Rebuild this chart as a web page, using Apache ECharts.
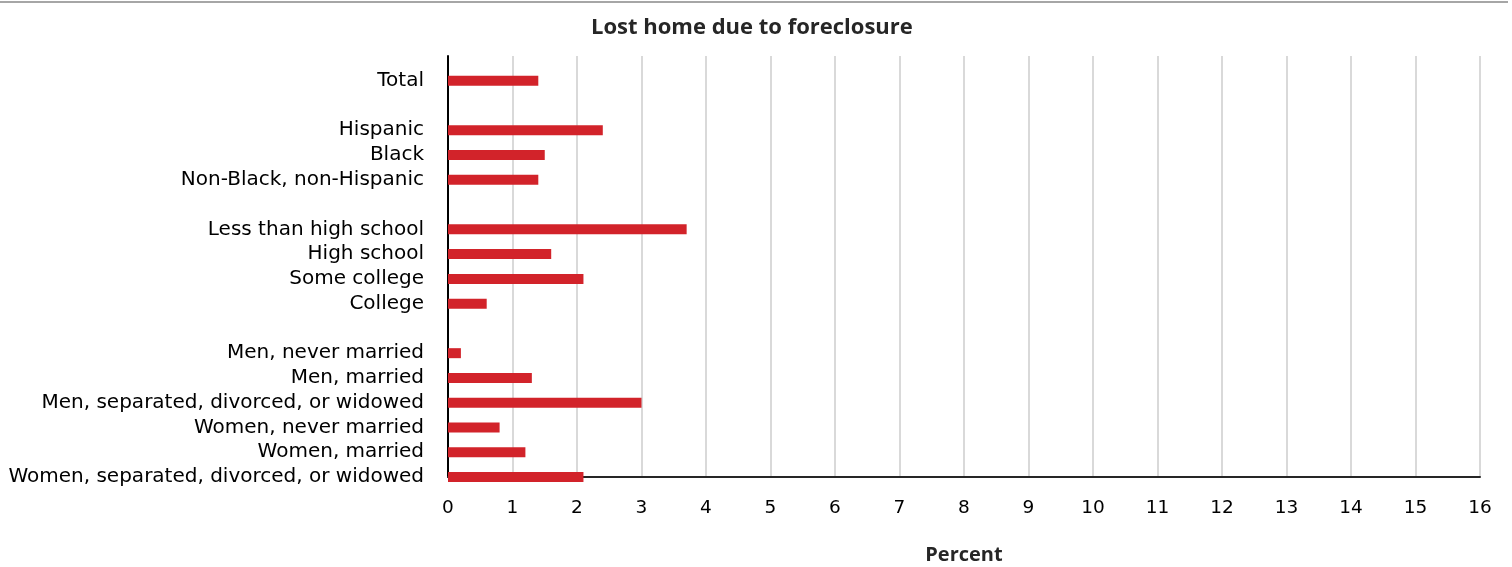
<!DOCTYPE html>
<html>
<head>
<meta charset="utf-8">
<script src="https://cdn.jsdelivr.net/npm/echarts@6/dist/echarts.min.js"></script>
<style>
  html, body { margin: 0; padding: 0; background: #fff; }
  #chart { width: 1512px; height: 567px; }
</style>
</head>
<body>
<div id="chart"></div>
<script>
// categories, blank strings are the spacer rows between groups
var categories = [
    '',
    'Total',
    '',
    'Hispanic',
    'Black',
    'Non-Black, non-Hispanic',
    '',
    'Less than high school',
    'High school',
    'Some college',
    'College',
    '',
    'Men, never married',
    'Men, married',
    'Men, separated, divorced, or widowed',
    'Women, never married',
    'Women, married',
    'Women, separated, divorced, or widowed'
];
var lostHome = [null, 1.4, null, 2.4, 1.5, 1.4, null, 3.7, 1.6, 2.1, 0.6, null, 0.2, 1.3, 3.0, 0.8, 1.2, 2.1];
var xTicks = { min: 0, max: 16, interval: 1 };

var labelFont = '"DejaVu Sans", sans-serif';
var boldFont = '"Open Sans", sans-serif';
var chart = echarts.init(document.getElementById('chart'));

chart.setOption({
    animation: false,
    title: {
        text: 'Lost home due to foreclosure',
        left: 586,
        top: 12,
        textStyle: { fontFamily: boldFont, fontSize: 22, fontWeight: 'bold', color: '#262626' }
    },
    graphic: [{
        type: 'line',
        shape: { x1: 0, y1: 2, x2: 1508, y2: 2 },
        style: { stroke: '#a6a6a6', lineWidth: 2 }
    }],
    grid: { left: 448, right: 32, top: 56, bottom: 90, outerBoundsMode: 'none' },
    xAxis: {
        type: 'value',
        min: xTicks.min,
        max: xTicks.max,
        interval: xTicks.interval,
        name: 'Percent',
        nameLocation: 'middle',
        nameGap: 68,
        nameTextStyle: { fontFamily: boldFont, fontSize: 20, fontWeight: 'bold', color: '#262626' },
        axisLine: { show: true, lineStyle: { color: '#262626', width: 2 } },
        axisTick: { show: false },
        axisLabel: { fontFamily: labelFont, fontSize: 18.5, color: '#000', margin: 22 },
        splitLine: { show: true, lineStyle: { color: '#d9d9d9', width: 2 } }
    },
    yAxis: {
        type: 'category',
        data: categories,
        inverse: true,
        boundaryGap: false,
        axisLine: { show: true, lineStyle: { color: '#000', width: 2 } },
        axisTick: { show: false },
        axisLabel: { fontFamily: labelFont, fontSize: 20, color: '#000', margin: 24, interval: 0 },
        splitLine: { show: false }
    },
    series: [{
        type: 'bar',
        data: lostHome,
        barWidth: 10,
        itemStyle: { color: '#d2232a' }
    }]
});
</script>
</body>
</html>
